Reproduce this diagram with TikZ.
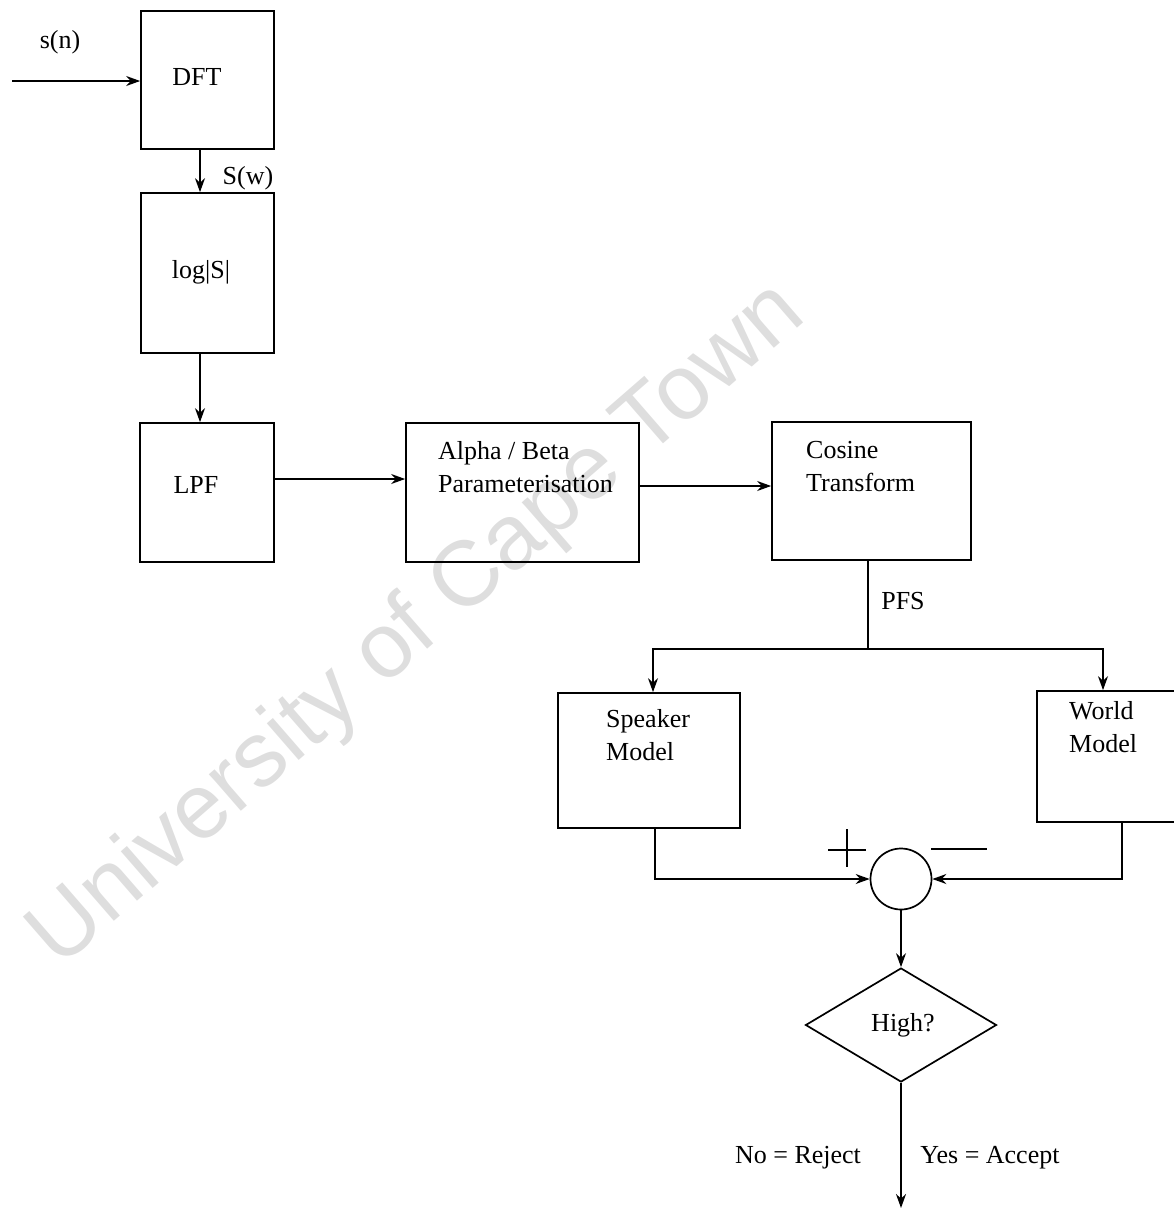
\documentclass[tikz,border=0pt]{standalone}
\usepackage{fontspec}
\setmainfont{Liberation Serif}
\newfontfamily\wmfont{Liberation Sans}
\usetikzlibrary{arrows.meta,shapes.geometric,calc}
\begin{document}
\begin{tikzpicture}[x=1pt,y=-1pt,
  every node/.style={font=\fontsize{26}{33}\selectfont, inner sep=0pt},
  blk/.style={draw, line width=1.7pt, rectangle},
  lbl/.style={anchor=west, align=left},
  arr/.style={line width=1.7pt, -{Stealth[length=14pt,width=10pt]}},
  wire/.style={line width=1.7pt},
]
\useasboundingbox (0,0) rectangle (1174,1210);
% watermark
\node[rotate=41, text=black!13, font=\wmfont\fontsize{92}{100}\selectfont] (wm) at (418,626) {University of Cape Town};

% boxes
\node[blk, minimum width=133, minimum height=138] (dft) at (207.5,80) {};
\node[blk, minimum width=133, minimum height=160] (logs) at (207.5,273) {};
\node[blk, minimum width=134, minimum height=139] (lpf) at (207,492.5) {};
\node[blk, minimum width=233, minimum height=139] (alpha) at (522.5,492.5) {};
\node[blk, minimum width=199, minimum height=138] (cos) at (871.5,491) {};
\node[blk, minimum width=182, minimum height=135] (spk) at (649,760.5) {};
\node[blk, minimum width=183, minimum height=131] (wld) at (1128.5,756.5) {};
\node[draw, circle, line width=1.7pt, minimum size=61] (sum) at (901,879) {};
\node[draw, diamond, line width=1.7pt, aspect=1.675, minimum width=191, minimum height=114] (dia) at (901,1025) {};

% texts
\node (tsn) at (60,42) {s(n)};
\node (tdft) at (197,77) {DFT};
\node (tsw) at (248,178) {S(w)};
\node (tlog) at (201,272) {log|S|};
\node (tlpf) at (196,485) {LPF};
\node[lbl] (talpha) at (438,467.5) {Alpha / Beta\\Parameterisation};
\node[lbl] (tcos) at (806,467) {Cosine\\Transform};
\node (tpfs) at (903,601) {PFS};
\node[lbl] (tspk) at (606,735) {Speaker\\Model};
\node[lbl] (twld) at (1069,727) {World\\Model};
\node (thigh) at (903,1025) {High?};
\node (tno) at (798,1158) {No = Reject};
\node (tyes) at (990,1158) {Yes = Accept};

% helper coordinates
\coordinate (in) at (12,81);
\coordinate (xa) at (200,0);
\coordinate (ya) at (0,479);
\coordinate (yb) at (0,486);
\coordinate (split) at (868,649);
\coordinate (xs) at (653,0);
\coordinate (xw) at (1103,0);
\coordinate (xs2) at (655,0);
\coordinate (xw2) at (1122,0);
\coordinate (out) at (901,1208);

% connectors
\draw[arr] (in) -- (in -| dft.west);
\draw[arr] (dft.south -| xa) -- (logs.north -| xa);
\draw[arr] (logs.south -| xa) -- (lpf.north -| xa);
\draw[arr] (lpf.east |- ya) -- (alpha.west |- ya);
\draw[arr] (alpha.east |- yb) -- (cos.west |- yb);
\draw[wire] (cos.south -| split) -- (split);
\draw[arr] (split) -| (spk.north -| xs);
\draw[arr] (split) -| (wld.north -| xw);
\draw[arr] (spk.south -| xs2) |- (sum.west);
\draw[arr] (wld.south -| xw2) |- (sum.east);
\draw[arr] (sum.south) -- (dia.north);
\draw[arr] (dia.south) -- (out);

% plus and minus signs
\draw[line width=1.5pt] (828,850) -- (866,850) (847,829) -- (847,867);
\draw[line width=1.5pt] (931,849) -- (987,849);
\end{tikzpicture}
\end{document}
